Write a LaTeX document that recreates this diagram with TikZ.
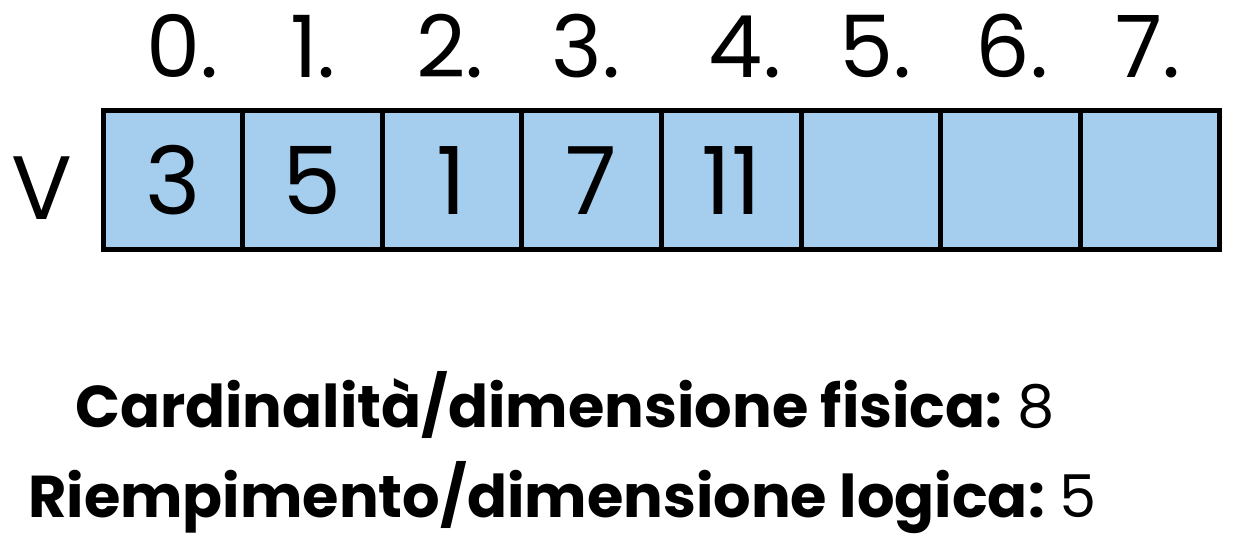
\documentclass[tikz,border=0pt]{standalone}
\usepackage{fontspec}
\setmainfont{Poppins}
\definecolor{cellblue}{HTML}{A4CDEE}
\tikzset{
  cella/.style={draw, line width=5pt, fill=cellblue, minimum width=139.6pt, minimum height=139pt, inner sep=0pt, font=\fontsize{94}{100}\selectfont},
  indice/.style={anchor=base, inner sep=0pt, font=\fontsize{86}{90}\selectfont},
  dida/.style={anchor=base west, inner sep=0pt, font=\fontsize{59}{70}\selectfont}
}
\begin{document}
\begin{tikzpicture}[x=1pt,y=1pt]
\useasboundingbox (0,0) rectangle (1233,548);
\node[indice] (i0) at (183,470) {0.};
\node[indice] (i1) at (313,470) {1.};
\node[indice] (i2) at (450,470) {2.};
\node[indice] (i3) at (586,470) {3.};
\node[indice] (i4) at (745,470) {4.};
\node[indice] (i5) at (876,470) {5.};
\node[indice] (i6) at (1012,470) {6.};
\node[indice] (i7) at (1148,470) {7.};
\node[cella] (c0) at (172.8,367.5) {3};
\node[cella] (c1) at (312.4,367.5) {5};
\node[cella] (c2) at (452.0,367.5) {1};
\node[cella] (c3) at (591.6,367.5) {7};
\node[cella] (c4) at (731.2,367.5) {11};
\node[cella] (c5) at (870.8,367.5) {};
\node[cella] (c6) at (1010.4,367.5) {};
\node[cella] (c7) at (1150.0,367.5) {};
\node[font=\fontsize{90}{100}\selectfont, inner sep=0pt] (v) at (42,360) {V};
\node[dida] (fisica) at (75,120) {\textbf{Cardinalità/dimensione fisica:}\hspace{-0.1em} 8};
\node[dida] (logica) at (28,30) {\textbf{Riempimento/dimensione logica:}\hspace{-0.1em} 5};
\end{tikzpicture}
\end{document}
